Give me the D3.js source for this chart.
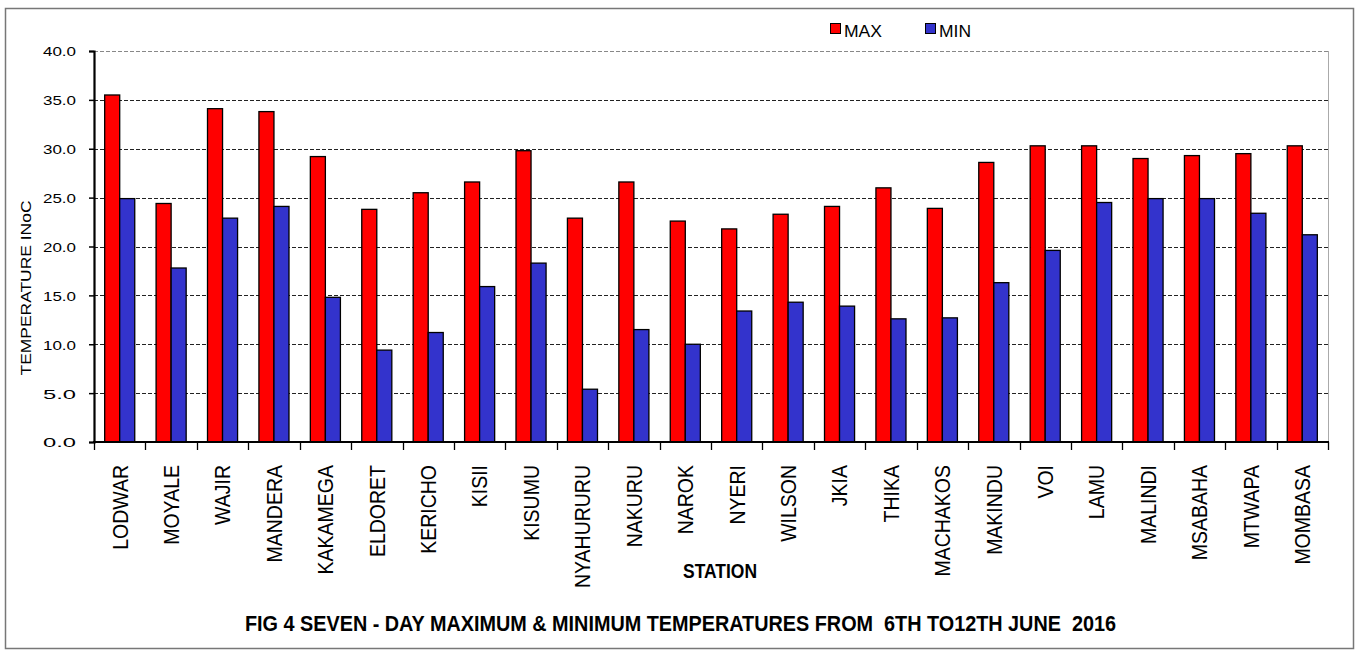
<!DOCTYPE html>
<html>
<head>
<meta charset="utf-8">
<script src="https://cdnjs.cloudflare.com/ajax/libs/d3/7.8.5/d3.min.js"></script>
<style>
  body { margin: 0; background: #fff; }
  svg { display: block; }
  text { font-family: "Liberation Sans", Arial, sans-serif; fill: #000; }
  .bold { font-family: "Liberation Sans Narrow", "Liberation Sans", Arial, sans-serif; font-weight: bold; }
</style>
</head>
<body>
<svg width="1361" height="650"></svg>
<script>
// stations and the weekly max / min temperatures (deg C)
let stations = ["LODWAR", "MOYALE", "WAJIR", "MANDERA", "KAKAMEGA", "ELDORET", "KERICHO", "KISII",
  "KISUMU", "NYAHURURU", "NAKURU", "NAROK", "NYERI", "WILSON", "JKIA", "THIKA", "MACHAKOS",
  "MAKINDU", "VOI", "LAMU", "MALINDI", "MSABAHA", "MTWAPA", "MOMBASA"];
let maxTemp = [35.5, 24.4, 34.1, 33.8, 29.2, 23.8, 25.5, 26.6, 29.8, 22.9, 26.6, 22.6,
  21.8, 23.3, 24.1, 26.0, 23.9, 28.6, 30.3, 30.3, 29.0, 29.3, 29.5, 30.3];
let minTemp = [24.9, 17.8, 22.9, 24.1, 14.8, 9.4, 11.2, 15.9, 18.3, 5.4, 11.5, 10.0,
  13.4, 14.3, 13.9, 12.6, 12.7, 16.3, 19.6, 24.5, 24.9, 24.9, 23.4, 21.2];
let seriesKeys = ["MAX", "MIN"];
let seriesColors = ["#ff0000", "#3333cc"];
let yTicks = [0, 5, 10, 15, 20, 25, 30, 35, 40];

let svg = d3.select("svg");

// outer frame
svg.append("rect")
  .attr("x", 5.5).attr("y", 8.5).attr("width", 1348).attr("height", 640)
  .attr("fill", "none").attr("stroke", "#777").attr("stroke-width", 1.5);

let x0 = d3.scaleBand()
  .domain(stations)
  .range([94, 1328]);

let x1 = d3.scaleBand()
  .domain(seriesKeys)
  .range([0, x0.bandwidth()])
  .paddingOuter(0.71);

let y = d3.scaleLinear()
  .domain([0, 40])
  .range([442, 51]);

let color = d3.scaleOrdinal().domain(seriesKeys).range(seriesColors);

// gridlines
svg.selectAll(".grid")
  .data(yTicks.slice(1))
  .enter()
  .append("line")
  .attr("class", "grid")
  .attr("x1", 94).attr("x2", 1328)
  .attr("y1", d => Math.round(y(d)) + 0.5)
  .attr("y2", d => Math.round(y(d)) + 0.5)
  .attr("stroke", d => d == 40 ? "#888" : "#222")
  .attr("stroke-width", 1.2)
  .attr("stroke-dasharray", "4,2");

// right edge of plot area
svg.append("line")
  .attr("x1", 1328.5).attr("x2", 1328.5).attr("y1", 51).attr("y2", 442)
  .attr("stroke", "#aaa").attr("stroke-width", 1);

let rows = stations.map((s, i) => ({ station: s, MAX: maxTemp[i], MIN: minTemp[i] }));

let groups = svg.selectAll(".grp")
  .data(rows)
  .enter()
  .append("g")
  .attr("class", "grp")
  .attr("transform", d => "translate(" + x0(d.station) + ",0)");

groups.selectAll("rect")
  .data(d => seriesKeys.map(k => ({ key: k, value: d[k] })))
  .enter()
  .append("rect")
  .attr("x", d => x1(d.key))
  .attr("width", x1.bandwidth())
  .attr("y", d => y(d.value))
  .attr("height", d => y(0) - y(d.value))
  .attr("fill", d => color(d.key))
  .attr("stroke", "#000")
  .attr("stroke-width", 1.3);

// y axis
let yAxis = svg.append("g")
  .attr("transform", "translate(94,0)")
  .call(d3.axisLeft(y).tickValues(yTicks).tickSize(5).tickPadding(13).tickFormat(d3.format(".1f")));
yAxis.select(".domain").attr("stroke", "#000").attr("stroke-width", 2.2);
yAxis.selectAll(".tick line").attr("stroke", "#000").attr("stroke-width", 1.5);
yAxis.selectAll(".tick text")
  .style("font-size", "13.5px")
  .attr("font-family", null)
  .attr("textLength", 33)
  .attr("lengthAdjust", "spacingAndGlyphs")
  .attr("dy", "0.36em");

// x axis: ticks on band boundaries
let xAxisG = svg.append("g");
xAxisG.append("line")
  .attr("x1", 93).attr("x2", 1329).attr("y1", 442).attr("y2", 442)
  .attr("stroke", "#000").attr("stroke-width", 2.2);
let boundaries = stations.map(s => x0(s)).concat([x0.range()[1]]);
xAxisG.selectAll(".xt")
  .data(boundaries)
  .enter()
  .append("line")
  .attr("class", "xt")
  .attr("x1", d => Math.round(d) + 0.5).attr("x2", d => Math.round(d) + 0.5)
  .attr("y1", 442).attr("y2", 450)
  .attr("stroke", "#000").attr("stroke-width", 1.3);

xAxisG.selectAll(".xl")
  .data(stations)
  .enter()
  .append("text")
  .attr("class", "xl")
  .attr("transform", d => "translate(" + (x0(d) + x0.bandwidth() / 2) + ",465) rotate(-90) scale(1,1.12)")
  .attr("text-anchor", "end")
  .attr("dy", "0.36em")
  .style("font-size", "19.5px")
  .text(d => d);

// axis titles
svg.append("text")
  .attr("transform", "translate(31,288) rotate(-90)")
  .attr("text-anchor", "middle")
  .attr("textLength", 175)
  .attr("lengthAdjust", "spacingAndGlyphs")
  .style("font-size", "14.5px")
  .text("TEMPERATURE INoC");

svg.append("text")
  .attr("class", "bold")
  .attr("x", 683).attr("y", 578)
  .attr("textLength", 74)
  .attr("lengthAdjust", "spacingAndGlyphs")
  .style("font-size", "21px")
  .text("STATION");

svg.append("text")
  .attr("class", "bold")
  .attr("x", 245).attr("y", 631)
  .attr("textLength", 871)
  .attr("lengthAdjust", "spacingAndGlyphs")
  .style("font-size", "22.5px")
  .style("white-space", "pre")
  .text("FIG 4 SEVEN - DAY MAXIMUM & MINIMUM TEMPERATURES FROM  6TH TO12TH JUNE  2016");

// legend
let legendX = d3.scaleOrdinal().domain(seriesKeys).range([830, 925]);
let legend = svg.selectAll(".lg")
  .data(seriesKeys)
  .enter()
  .append("g")
  .attr("class", "lg")
  .attr("transform", d => "translate(" + legendX(d) + ",23)");
legend.append("rect")
  .attr("x", 0.5).attr("y", 0.5).attr("width", 10).attr("height", 10)
  .attr("fill", d => color(d)).attr("stroke", "#000").attr("stroke-width", 1);
legend.append("text")
  .attr("x", 14).attr("y", 13.5)
  .attr("textLength", d => d == "MAX" ? 38 : 32)
  .attr("lengthAdjust", "spacingAndGlyphs")
  .style("font-size", "16px")
  .text(d => d);
</script>
</body>
</html>
